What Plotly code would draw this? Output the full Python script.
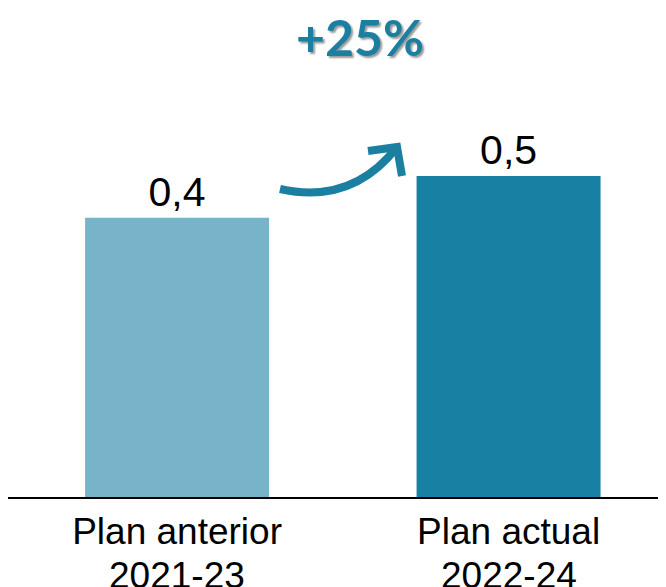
import plotly.graph_objects as go

# data
categories = ["Plan anterior", "Plan actual"]
periods = ["2021-23", "2022-24"]
values = [0.435, 0.5]
value_labels = ["0,4", "0,5"]
bar_colors = ["#77b3c9", "#1780a3"]
growth_label = "+25%"

W, H = 666, 587
OFF = 8          # page body margin: the figure is drawn 8px right/down
PLOT_H = 497 - OFF  # plot area height in figure pixels (baseline position)


def px_to_paper(x, y):
    """Convert picture pixel coords to paper coords (plot spans full width, top at 0)."""
    return (x - OFF) / W, (PLOT_H - (y - OFF)) / PLOT_H


fig = go.Figure(go.Bar(
    x=categories,
    y=values,
    marker_color=bar_colors,
    marker_line_width=0,
    width=0.555,
    text=value_labels,
    textposition="outside",
    textfont=dict(size=41, color="black", family="Liberation Sans, Arial"),
    cliponaxis=False,
))

# second line of the category labels (tighter line spacing than <br>)
for cat, period in zip(categories, periods):
    fig.add_annotation(x=cat, xref="x", y=0, yref="paper", yshift=-56,
                       text=period, showarrow=False, yanchor="top",
                       font=dict(size=37, color="black"))

# curved arrow between the bars
p0 = px_to_paper(280, 189)
pc = px_to_paper(352, 205)
p1 = px_to_paper(397, 147)
a1 = px_to_paper(368, 151)
a2 = px_to_paper(402, 176)
arrow_color = "#1a7fa0"
fig.add_shape(type="path", xref="paper", yref="paper",
              path=f"M {p0[0]},{p0[1]} Q {pc[0]},{pc[1]} {p1[0]},{p1[1]}",
              line=dict(color=arrow_color, width=8))
fig.add_shape(type="path", xref="paper", yref="paper",
              path=f"M {a1[0]},{a1[1]} L {p1[0]},{p1[1]} L {a2[0]},{a2[1]}",
              line=dict(color=arrow_color, width=8))

tx, ty = px_to_paper(360, 37)
fig.add_annotation(
    text=f"<b>{growth_label}</b>", xref="paper", yref="paper",
    x=tx, y=ty, showarrow=False, xanchor="center", yanchor="middle",
    font=dict(size=50, color=arrow_color, family="Lato, Noto Sans",
              shadow="2px 2px 2px #9a9a9a"),
)

fig.update_layout(
    width=W, height=H,
    margin=dict(l=0, r=0, t=0, b=H - PLOT_H),
    plot_bgcolor="white", paper_bgcolor="white",
    showlegend=False,
    font=dict(family="Liberation Sans, Arial", color="black"),
)
fig.update_xaxes(
    range=[-0.510, 1.499],
    automargin=False,
    showline=True, linecolor="black", linewidth=2,
    showgrid=False, ticks="",
    ticklabelstandoff=1,
    tickfont=dict(size=37, color="black"),
)
fig.update_yaxes(range=[0, 0.5 * PLOT_H / 321], visible=False, automargin=False)

fig.write_html("out.html")
